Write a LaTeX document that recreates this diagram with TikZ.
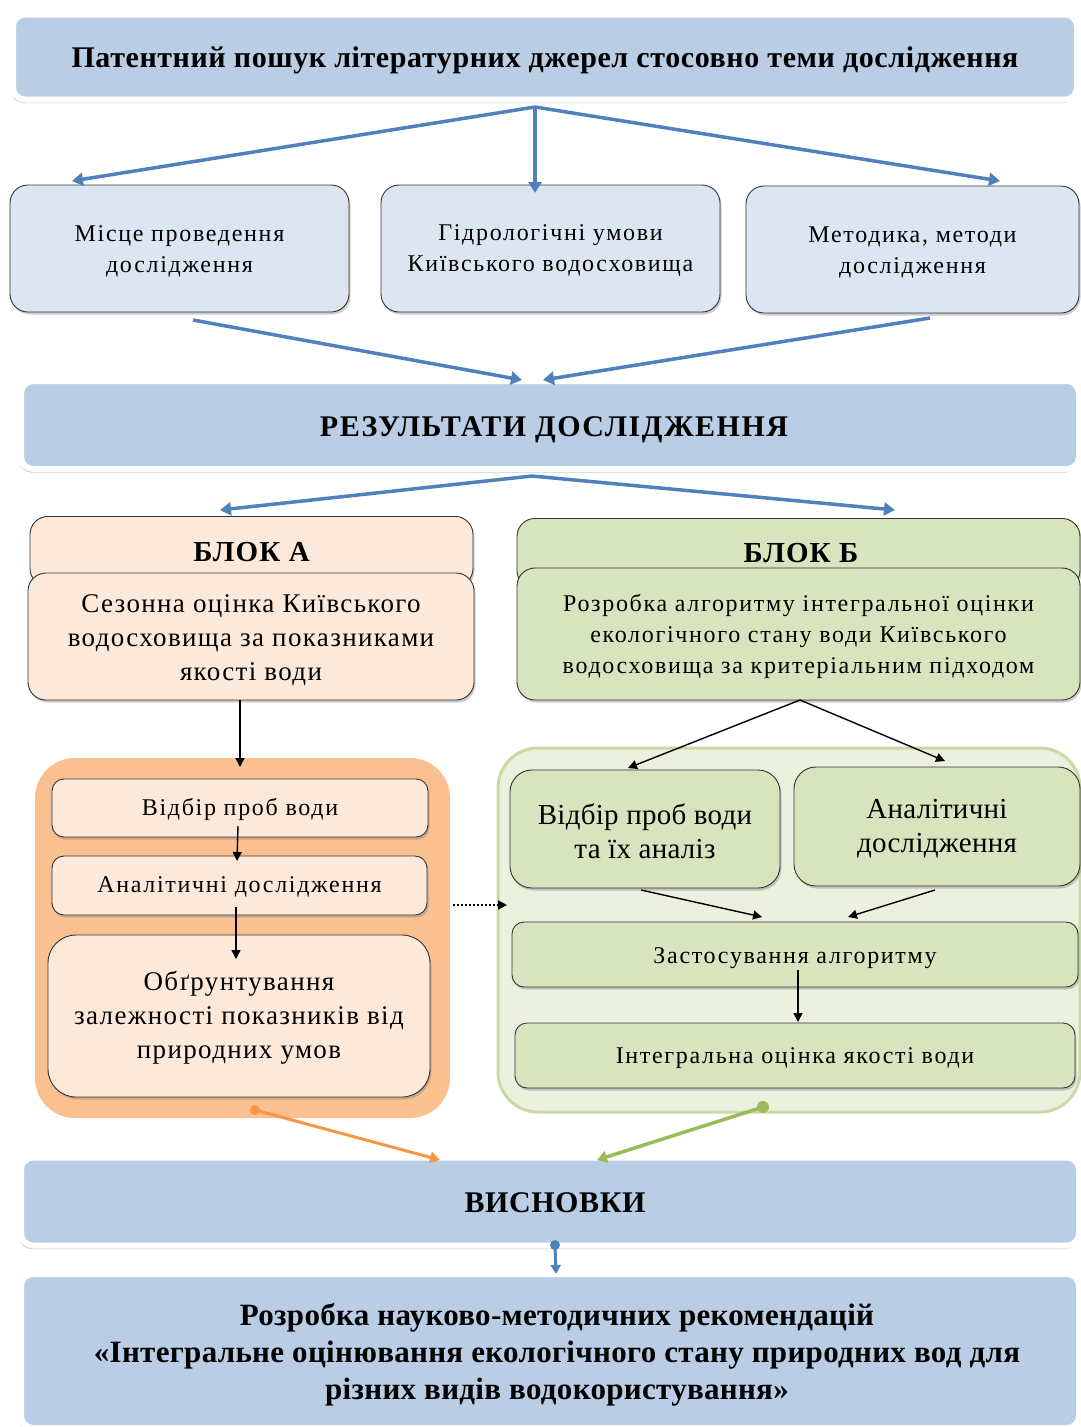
\documentclass[tikz,border=0pt]{standalone}
\usepackage{fontspec}
\setmainfont{Liberation Serif}
\usetikzlibrary{arrows.meta,shadows}
\definecolor{bArrow}{HTML}{4F81BD}
\definecolor{bHead}{HTML}{B9CDE5}
\definecolor{bLight}{HTML}{DCE6F2}
\definecolor{peach}{HTML}{FDE9D9}
\definecolor{orCont}{HTML}{FAC090}
\definecolor{grBox}{HTML}{D7E4BD}
\definecolor{grCont}{HTML}{EBF1DE}
\definecolor{grEdge}{HTML}{C9DBA5}
\definecolor{orArrow}{HTML}{F79646}
\definecolor{grArrow}{HTML}{9BBB59}
\newcommand\lsp[1]{\addfontfeature{LetterSpace=#1}}
\tikzset{
  headbox/.style={fill=bHead, draw=white, line width=6pt, rounded corners=12pt,
    drop shadow={shadow xshift=-1.5pt, shadow yshift=-3.5pt, opacity=0.45},
    inner sep=0pt},
  headtxt/.style={align=center, inner sep=0pt, font=\bfseries\fontsize{30}{37}\selectfont\lsp{2}},
  plainbox/.style={draw=black!80, line width=0.9pt, rounded corners=18pt,
    drop shadow={shadow xshift=1.5pt, shadow yshift=-2.5pt, opacity=0.4},
    inner sep=0pt},
  txt/.style={align=center, inner sep=0pt},
  bluebox/.style={plainbox, fill=bLight},
  peachbox/.style={plainbox, fill=peach},
  greenbox/.style={plainbox, fill=grBox},
  barrow/.style={draw=bArrow, line width=3.5pt, -{Triangle[length=11pt,width=13pt]}},
  karrow/.style={draw=black, line width=1.4pt, -{Triangle[length=9pt,width=9pt]}},
}
\begin{document}
\begin{tikzpicture}[x=1pt,y=-1pt]
\useasboundingbox (0,0) rectangle (1081,1427);
\fill[white] (0,0) rectangle (1081,1427);

% top header
\node[headbox, minimum width=1064, minimum height=85] (top) at (545,57) {};
\node[headtxt] (topT) at ([yshift=-3pt]top.center)
  {Патентний пошук літературних джерел стосовно теми дослідження};

% three boxes
\node[bluebox, minimum width=339, minimum height=127] (m1) at (179.5,248.5) {};
\node[bluebox, minimum width=339, minimum height=127] (m2) at (550.5,248.5) {};
\node[bluebox, minimum width=333, minimum height=127] (m3) at (912.5,249.5) {};
\begin{scope}[every node/.style={txt, font=\fontsize{24}{31}\selectfont\lsp{7}}]
\node (m1T) at ([yshift=-2.5pt]m1.center) {Місце проведення\\дослідження};
\node (m2T) at ([yshift=-2.5pt]m2.center) {Гідрологічні умови\\Київського водосховища};
\node (m3T) at ([yshift=-2.5pt]m3.center) {Методика, методи\\дослідження};
\end{scope}

\coordinate (t0) at (535,107);
\draw[barrow] (t0) -- (72,181);
\draw[barrow] (t0) -- (535,193);
\draw[barrow] (t0) -- (1000,181);

% results
\node[headbox, minimum width=1058, minimum height=88] (res) at (550,425) {};
\node[headtxt, font=\bfseries\fontsize{30}{37}\selectfont\lsp{5}] (resT) at ([xshift=4pt,yshift=-5pt]res.center) {РЕЗУЛЬТАТИ ДОСЛІДЖЕННЯ};
\coordinate (r1) at (522,380);
\coordinate (r2) at (543,380);
\draw[barrow] (193,320) -- (r1);
\draw[barrow] (930,318) -- (r2);

\coordinate (r0) at (532,476);
\draw[barrow] (r0) -- (220,510);
\draw[barrow] (r0) -- (895,510);

% block A
\node[peachbox, minimum width=443, minimum height=70, anchor=north] (hA) at (251.5,516) {};
\node[txt, font=\bfseries\fontsize{29}{34}\selectfont\lsp{4}] (hAt) at (251.5,552) {БЛОК А};
\node[peachbox, minimum width=446, minimum height=127] (bA) at (251,636.5) {};
\node[txt, font=\fontsize{27}{34}\selectfont\lsp{5}] (bAT) at ([yshift=-3.5pt]bA.center)
  {Сезонна оцінка Київського\\водосховища за показниками\\якості води};

% block B
\node[greenbox, minimum width=563, minimum height=70, anchor=north] (hB) at (798.5,518) {};
\node[txt, font=\bfseries\fontsize{29}{34}\selectfont\lsp{4}] (hBt) at (801,553) {БЛОК Б};
\node[greenbox, minimum width=563, minimum height=132] (bB) at (798.5,634) {};
\node[txt, font=\fontsize{24}{31}\selectfont\lsp{7}] (bBT) at ([yshift=-2pt]bB.center)
  {Розробка алгоритму інтегральної оцінки\\екологічного стану води Київського\\водосховища за критеріальним підходом};

% orange container
\node[fill=orCont, rounded corners=40pt, minimum width=415, minimum height=360] (oc) at (242.5,938) {};
\node[peachbox, minimum width=376, minimum height=58, rounded corners=12pt] (a1) at (240,808) {};
\node[peachbox, minimum width=375, minimum height=59, rounded corners=12pt] (a2) at (239.5,885.5) {};
\node[peachbox, minimum width=382, minimum height=162, rounded corners=28pt] (a3) at (239,1016) {};
\node[txt, font=\fontsize{24}{28}\selectfont\lsp{7}] (a1T) at ([yshift=-1.5pt]a1.center) {Відбір проб води};
\node[txt, font=\fontsize{24}{28}\selectfont\lsp{7}] (a2T) at ([yshift=-1.5pt]a2.center) {Аналітичні дослідження};
\node[txt, font=\fontsize{27}{34}\selectfont\lsp{5}] (a3T) at ([yshift=-2pt]a3.center)
  {Обґрунтування\\залежності показників від\\природних умов};

\coordinate (ocTop) at (240,767);
\draw[karrow] (bA.south -| ocTop) -- (ocTop);
\draw[karrow] (238,826) -- (237,861);
\draw[karrow] (236,907) -- (236,959);

% green container
\node[fill=grCont, draw=grEdge, line width=3pt, rounded corners=40pt, minimum width=582, minimum height=364] (gc) at (789,930) {};
\node[greenbox, minimum width=270, minimum height=118, rounded corners=22pt] (g1) at (645,829) {};
\node[greenbox, minimum width=286, minimum height=119, rounded corners=22pt] (g2) at (937,826.5) {};
\node[greenbox, minimum width=566, minimum height=65, rounded corners=12pt] (g3) at (795,954.5) {};
\node[greenbox, minimum width=560, minimum height=65, rounded corners=12pt] (g4) at (795,1055.5) {};
\node[txt, font=\fontsize{29}{34}\selectfont\lsp{1}] (g1T) at ([yshift=-2pt]g1.center) {Відбір проб води\\та їх аналіз};
\node[txt, font=\fontsize{29}{34}\selectfont\lsp{1}] (g2T) at ([yshift=-2.5pt]g2.center) {Аналітичні\\дослідження};
\node[txt, font=\fontsize{24}{28}\selectfont\lsp{7}] (g3T) at ([yshift=-3.5pt]g3.center) {Застосування алгоритму};
\node[txt, font=\fontsize{24}{28}\selectfont\lsp{7}] (g4T) at ([yshift=-3pt]g4.center) {Інтегральна оцінка якості води};

\coordinate (b0) at (800,700);
\draw[karrow] (b0) -- (628,768);
\draw[karrow] (b0) -- (945,761);
\draw[karrow] (641,890) -- (762,917);
\draw[karrow] (935,890) -- (848,917);
\draw[karrow] (798,970) -- (798,1022);

% dotted link
\coordinate (dEnd) at (507,905);
\draw[black, line width=2pt, dotted, -{Triangle[length=9pt,width=9pt]}] (oc.east |- dEnd) ++(3,0) -- (dEnd);

% conclusions
\node[headbox, minimum width=1058, minimum height=88] (con) at (550,1201.5) {};
\node[headtxt] (conT) at ([xshift=5pt,yshift=-1pt]con.center) {ВИСНОВКИ};
\coordinate (oEnd) at (440,1160);
\coordinate (gEnd) at (597,1160);
\fill[orArrow] (255,1110) circle (5);
\draw[draw=orArrow, line width=3pt, -{Triangle[length=10pt,width=11pt]}] (255,1110) -- (oEnd);
\fill[grArrow] (763,1107) circle (6);
\draw[draw=grArrow, line width=3.5pt, -{Triangle[length=10pt,width=12pt]}] (763,1107) -- (gEnd);

% final
\node[headbox, minimum width=1058, minimum height=154] (fin) at (550,1351) {};
\node[headtxt, font=\bfseries\fontsize{31}{37}\selectfont\lsp{1}] (finT) at ([xshift=7pt,yshift=-3.5pt]fin.center)
  {Розробка науково-методичних рекомендацій\\«Інтегральне оцінювання екологічного стану природних вод для\\різних видів водокористування»};
\fill[bArrow] (555,1245) circle (5);
\draw[barrow, line width=3pt, -{Triangle[length=9pt,width=10pt]}] (555,1245) -- (556,1274);
\end{tikzpicture}
\end{document}
